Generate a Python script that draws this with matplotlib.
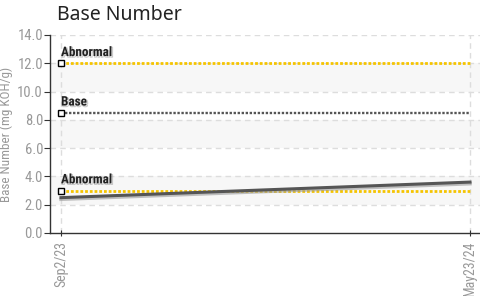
import matplotlib
matplotlib.use("Agg")
import matplotlib.pyplot as plt
import matplotlib.dates as mdates
import matplotlib.patheffects as pe
from matplotlib import font_manager
import datetime as dt

# ---- data ----
dates = [dt.date(2023, 9, 2), dt.date(2024, 5, 23)]
date_labels = ["Sep2/23", "May23/24"]
base_number = [2.5, 3.6]
limit_names = ["Abnormal", "Base", "Abnormal"]
limit_values = [12.0, 8.5, 3.0]
limit_colors = ["#f5c400", "#555555", "#f5c400"]
yticks = [0, 2, 4, 6, 8, 10, 12, 14]

names = {f.name for f in font_manager.fontManager.ttflist}
narrow = "DejaVu Sans"
for cand in ["Roboto Condensed", "Liberation Sans Narrow", "Barlow Semi Condensed", "Asap Condensed"]:
    if cand in names:
        narrow = cand
        break

fig = plt.figure(figsize=(4.81, 2.96), dpi=100)
ax = fig.add_axes([50/481, 63/296, 431/481, 198/296])

xd = mdates.date2num(dates)
pad = 7.1
ax.set_xlim(xd[0] - pad, xd[-1] + pad)
ax.set_ylim(0, 14)

# alternating bands
for lo in (2, 6, 10):
    ax.axhspan(lo, lo + 2, color="#f7f7f7", zorder=0, lw=0)

# grid
for y in yticks[1:]:
    ax.axhline(y, color="#dddddd", lw=1, ls=(0, (4, 3)), zorder=1)
for x in xd:
    ax.axvline(x, color="#dddddd", lw=1, ls=(0, (4, 3)), zorder=1)

# limit lines
for name, val, col in zip(limit_names, limit_values, limit_colors):
    lw = 2.0 if col != "#555555" else 1.7
    ax.plot(xd, [val, val], color=col, lw=lw, ls=(0, (1, 0.7)), zorder=3,
            solid_capstyle="butt", dash_capstyle="butt")
    ax.plot([xd[0]], [val], marker="s", ms=4.5, mfc="white", mec="black",
            mew=1, zorder=5, ls="none")
    ax.text(xd[0], val + 0.3, name, fontsize=9.5, family=narrow,
            fontweight="bold", color="#222222", ha="left", va="bottom", zorder=6,
            path_effects=[pe.SimpleLineShadow(offset=(0.8, -0.8), shadow_color="#999999",
                                              alpha=0.5, linewidth=0.8),
                          pe.Normal()])

# data series
ax.plot(xd, base_number, color="#555555", lw=2.2, zorder=4,
        path_effects=[pe.SimpleLineShadow(offset=(0, -1.2), shadow_color="#999999",
                                          alpha=0.6, linewidth=2.5),
                      pe.Normal()])

# axes styling
for s in ("top", "right"):
    ax.spines[s].set_visible(False)
ax.spines["left"].set_color("#333333")
ax.spines["bottom"].set_color("#333333")
ax.spines["left"].set_linewidth(1)
ax.spines["bottom"].set_linewidth(1)

ax.set_yticks(yticks)
ax.set_yticklabels([f"{v:.1f}" for v in yticks], family=narrow, fontsize=10.5, color="#999999")
ax.set_xticks(xd)
ax.set_xticklabels(date_labels, rotation=90, family=narrow, fontsize=10, color="#999999")
ax.tick_params(axis="y", length=4, color="#333333", pad=1)
ax.tick_params(axis="x", length=5, direction="inout", color="#333333", pad=3)

ax.set_ylabel("Base Number (mg KOH/g)", family=narrow, fontsize=9.5, color="#999999", labelpad=3)

fig.text(57/481, 1 - 15/296, "Base Number", fontsize=14, family="Noto Sans",
         color="#222222", ha="left", va="center")

fig.savefig("out.png", dpi=100)
